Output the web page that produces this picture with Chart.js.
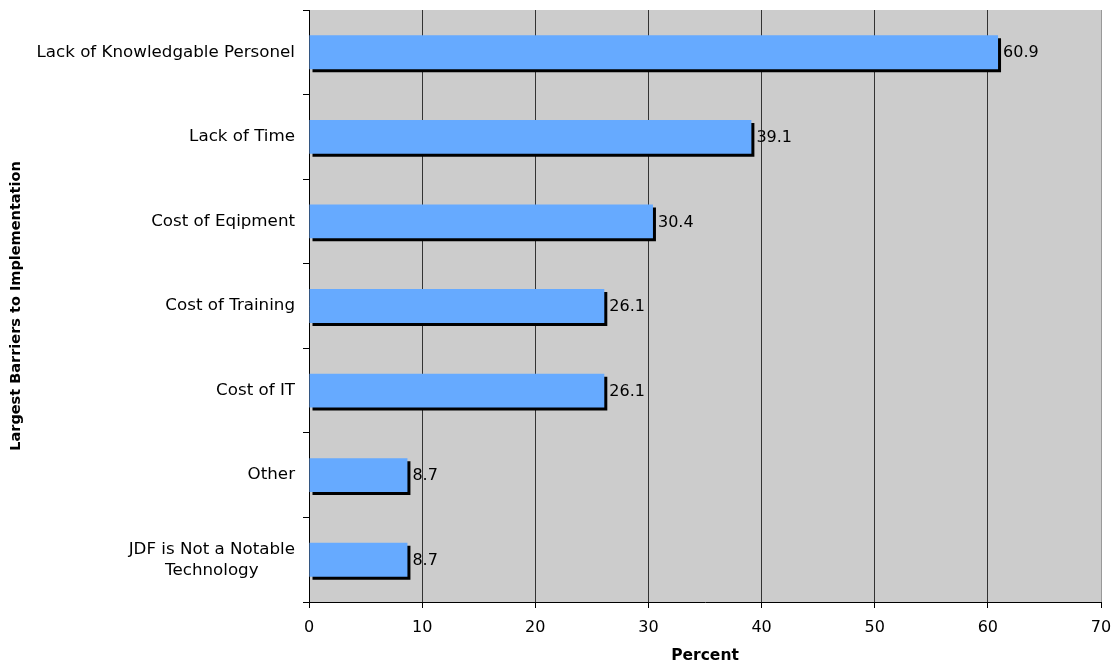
<!DOCTYPE html>
<html>
<head>
<meta charset="utf-8">
<script src="https://cdn.jsdelivr.net/npm/chart.js@4/dist/chart.umd.min.js"></script>
<style>
  html, body { margin: 0; padding: 0; background: #fff; }
  #wrap { width: 1114px; height: 665px; position: relative; }
</style>
</head>
<body>
<div id="wrap"><canvas id="barriers"></canvas></div>
<script>
// ── Data ──────────────────────────────────────
const barriers = [
  'Lack of Knowledgable Personel',
  'Lack of Time',
  'Cost of Eqipment',
  'Cost of Training',
  'Cost of IT',
  'Other',
  ['JDF is Not a Notable', 'Technology']
];
const percents = [60.9, 39.1, 30.4, 26.1, 26.1, 8.7, 8.7];
const percentTicks = [0, 10, 20, 30, 40, 50, 60, 70];

const FONT = "'DejaVu Sans', Verdana, sans-serif";

// grey plot background
const plotBg = {
  id: 'plotBg',
  beforeDraw(chart) {
    const { ctx, chartArea: a } = chart;
    ctx.save();
    ctx.fillStyle = '#cccccc';
    ctx.fillRect(a.left, a.top, a.right - a.left, a.bottom - a.top);
    ctx.restore();
  }
};

// hard black drop shadow under each bar
const barShadow = {
  id: 'barShadow',
  beforeDatasetDraw(chart) {
    const ctx = chart.ctx;
    ctx.save();
    ctx.shadowColor = '#000';
    ctx.shadowOffsetX = 3;
    ctx.shadowOffsetY = 3;
    ctx.shadowBlur = 0;
  },
  afterDatasetDraw(chart) {
    chart.ctx.restore();
  }
};

// value text at the end of each bar
const valueLabels = {
  id: 'valueLabels',
  afterDatasetsDraw(chart) {
    const ctx = chart.ctx;
    const meta = chart.getDatasetMeta(0);
    ctx.save();
    ctx.font = `16px ${FONT}`;
    ctx.fillStyle = '#000';
    ctx.textBaseline = 'middle';
    ctx.textAlign = 'left';
    meta.data.forEach((bar, i) => {
      ctx.fillText(percents[i].toFixed(1), bar.x + 5, bar.y + 1);
    });
    ctx.restore();
  }
};

// category names: right edge at the axis, wrapped lines centred on each other
const categoryLabels = {
  id: 'categoryLabels',
  afterDraw(chart) {
    const ctx = chart.ctx;
    const y = chart.scales.y;
    const right = y.right - 14;
    const lh = 21;
    ctx.save();
    ctx.font = `16.7px ${FONT}`;
    ctx.fillStyle = '#000';
    ctx.textBaseline = 'middle';
    ctx.textAlign = 'center';
    barriers.forEach((lbl, i) => {
      const lines = Array.isArray(lbl) ? lbl : [lbl];
      const w = Math.max(...lines.map(l => ctx.measureText(l).width));
      const cx = right - w / 2;
      const cy = y.getPixelForValue(i);
      const top = cy - (lines.length - 1) * lh / 2;
      lines.forEach((l, k) => ctx.fillText(l, cx, top + k * lh));
    });
    ctx.restore();
  }
};

new Chart(document.getElementById('barriers'), {
  type: 'bar',
  data: {
    labels: barriers,
    datasets: [{
      data: percents,
      backgroundColor: '#66aaff',
      borderWidth: 0,
      categoryPercentage: 1,
      barPercentage: 0.4
    }]
  },
  options: {
    indexAxis: 'y',
    responsive: true,
    maintainAspectRatio: false,
    animation: false,
    layout: { padding: { top: 10, right: 13, left: 0, bottom: 0 } },
    plugins: {
      legend: { display: false },
      tooltip: { enabled: false }
    },
    scales: {
      x: {
        min: 0, max: 70,
        afterBuildTicks(scale) { scale.ticks = percentTicks.map(v => ({ value: v })); },
        afterFit(scale) {
          scale.height = 63;
          scale.paddingLeft = 0;
          scale.paddingRight = 0;
        },
        border: { display: true, color: '#000', width: 1 },
        grid: {
          color: ctx => ctx.tick && ctx.tick.value === 70 ? '#999999' : '#333333',
          lineWidth: 1,
          tickLength: 6,
          tickColor: '#000'
        },
        ticks: { color: '#000', font: { family: FONT, size: 16 }, padding: 10, maxRotation: 0 },
        title: {
          display: true, text: 'Percent', color: '#000',
          font: { family: FONT, size: 15.5, weight: 'bold' },
          padding: { top: 0, bottom: 0 }
        }
      },
      y: {
        afterFit(scale) { scale.width = 309; },
        border: { display: true, color: '#000', width: 1 },
        grid: {
          drawOnChartArea: false,
          offset: true,
          tickLength: 6,
          color: '#000'
        },
        ticks: { display: false, autoSkip: false },
        title: {
          display: true, text: 'Largest Barriers to Implementation', color: '#000',
          font: { family: FONT, size: 14.5, weight: 'bold' },
          padding: { top: 8, bottom: 0 }
        }
      }
    }
  },
  plugins: [plotBg, barShadow, valueLabels, categoryLabels]
});
</script>
</body>
</html>
